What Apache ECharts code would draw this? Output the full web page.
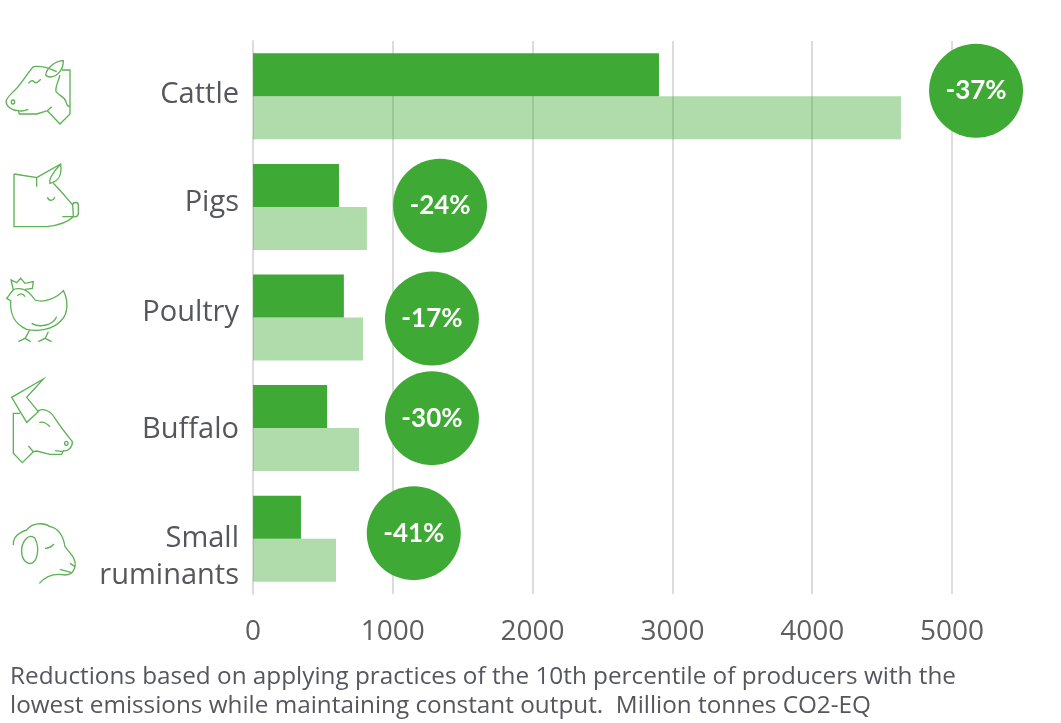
<!DOCTYPE html>
<html><head><meta charset="utf-8">
<style>html,body{margin:0;padding:0;background:#fff}#c{width:1061px;height:723px}</style>
<script src="https://cdn.jsdelivr.net/npm/echarts@6/dist/echarts.min.js"></script>
</head><body><div id="c"></div>
<script>
const categories = ['Cattle','Pigs','Poultry','Buffalo','Small\nruminants'];
const withPractices = [2904,615,650,530,343];
const baseline = [4635,815,787,758,594];
const reductionLabels = ['-37%','-24%','-17%','-30%','-41%'];
const bubbleX = [5172,1338,1280,1280,1150];
const bubbleRow = [-0.05,0.99,2.01,2.91,3.95];
const captionLines = ['Reductions based on applying practices of the 10th percentile of producers with the','lowest emissions while maintaining constant output.  Million tonnes CO2-EQ'];

const green = '#3fa935', txt = '#55565e', FONT = '"Open Sans"';

// decorative line icons, [path, originY], path coordinates at 3x scale
const icons = [
 ['M170 95C140 80 115 78 100 80C85 95 65 130 45 150C30 165 18 175 18 185C20 200 35 212 55 212L58 222L110 222L142 212L180 252L210 222L210 90L186 90M190 62C165 62 140 85 137 105C145 115 165 112 175 100C185 90 190 75 190 62ZM180 105C175 125 165 140 168 155C180 170 195 170 198 185C200 195 205 200 210 200M85 130C95 118 100 122 105 128C112 130 118 122 122 118M44 186A5 6 0 1 1 34 186A5 6 0 1 1 44 186M55 212C70 215 75 212 85 208M142 212L155 200',40],
 ['M42 402L42 560L140 560C180 555 205 545 220 530M42 402L110 413L110 440M110 413L182 372C186 400 178 425 150 430C145 420 160 395 182 372M160 430C180 450 205 480 218 495M218 495C218 485 235 485 235 495L235 520C235 532 220 532 220 528ZM187 530L232 530M142 472C148 484 158 484 165 472',40],
 ['M40 90L33 60L50 68L62 55L75 70L100 65L97 85L75 88M40 90C30 100 25 110 20 115L32 122C30 160 40 190 80 208C110 215 160 210 185 180C205 160 205 120 190 92C170 115 130 130 105 120C95 105 85 92 70 88C60 85 45 85 40 90M52 108C58 98 70 100 75 110M95 190C120 205 160 195 170 170M88 212L75 236M55 245L75 235L92 245M145 215L135 236M115 245L135 235L155 245',260],
 ['M130 357L35 412L80 487L115 455L80 412ZM115 452C130 445 150 450 165 475C185 505 205 530 217 545C218 560 205 575 190 572L185 583L150 583L110 573L100 575L85 558M100 575L67 608L40 580L40 460L60 460M118 488C130 482 140 490 150 500M204 550A5 6 0 1 1 194 550A5 6 0 1 1 204 550M165 572L188 575',260],
 ['M40 855C38 830 60 815 80 810C95 790 130 785 150 800C175 805 190 830 195 860C210 880 230 895 225 920C220 935 215 945 195 945C170 940 140 945 118 970M75 840C60 860 60 900 85 910C110 915 122 870 105 835C95 825 85 828 75 840M135 865C145 865 155 860 162 852M180 928L215 938M210 910L225 920',260]
];

const rowStyle = {color:txt,fontSize:29,fontFamily:FONT,lineHeight:37,align:'right'};
const rich = {
  r0:{...rowStyle,padding:[0,0,4,0]},
  r1:{...rowStyle,padding:[0,0,8,0]},
  r2:{...rowStyle,padding:[0,0,10,0]},
  r3:{...rowStyle,padding:[4,0,0,0]},
  r4:{...rowStyle}
};

const chart = echarts.init(document.getElementById('c'), null, {renderer:'canvas'});
chart.setOption({
  animation:false,
  backgroundColor:'#fff',
  grid:{left:253,right:109,top:41,bottom:129,containLabel:false},
  xAxis:{type:'value',min:0,max:5000,interval:1000,
    axisLine:{show:false},axisTick:{show:false},
    axisLabel:{color:'#5e5e5e',fontSize:28,fontFamily:FONT,margin:24,formatter:v=>String(v)},
    splitLine:{show:true,lineStyle:{color:'#dcdcdc',width:2}}},
  yAxis:[
   {type:'category',data:categories,inverse:true,
    axisLine:{show:true,lineStyle:{color:'#dcdcdc',width:2}},axisTick:{show:false},
    axisLabel:{color:txt,fontSize:29,fontFamily:FONT,margin:14,align:'right',
      formatter:(v,i)=>{
        if(i===4){return '{r4| }\n'+v.split('\n').map(s=>'{r4|'+s+'}').join('\n');}
        return '{r'+i+'|'+v+'}';
      },rich},
    splitLine:{show:false}},
   {type:'value',min:-0.5,max:4.5,inverse:true,show:false,splitLine:{show:false}}
  ],
  series:[
   {type:'bar',data:withPractices,barWidth:43,barGap:0,itemStyle:{color:green},z:3},
   {type:'bar',data:baseline,barWidth:43,barGap:0,itemStyle:{color:green,opacity:0.41},z:3},
   {type:'scatter',yAxisIndex:1,symbol:'circle',symbolSize:94,clip:false,z:5,
    itemStyle:{color:green,opacity:1},
    data:bubbleX.map((x,i)=>({value:[x,bubbleRow[i]],label:{formatter:reductionLabels[i]}})),
    label:{show:true,position:'inside',color:'#fff',fontSize:26,fontWeight:'bold',fontFamily:'Lato'}},
   {type:'custom',coordinateSystem:'none',silent:true,z:6,
    data:icons.map((_,i)=>[i]),
    renderItem:(params)=>{
      const [d,y]=icons[params.dataIndex];
      return {type:'path',x:0,y:y,scaleX:1/3,scaleY:1/3,silent:true,
        shape:{pathData:d},style:{fill:'none',stroke:'#5cb254',lineWidth:4}};
    }}
  ],
  graphic:captionLines.map((t,i)=>({type:'text',x:10,y:665+i*29,silent:true,
      style:{text:t,fill:txt,fontSize:24.3,fontFamily:FONT}}))
});
</script></body></html>
